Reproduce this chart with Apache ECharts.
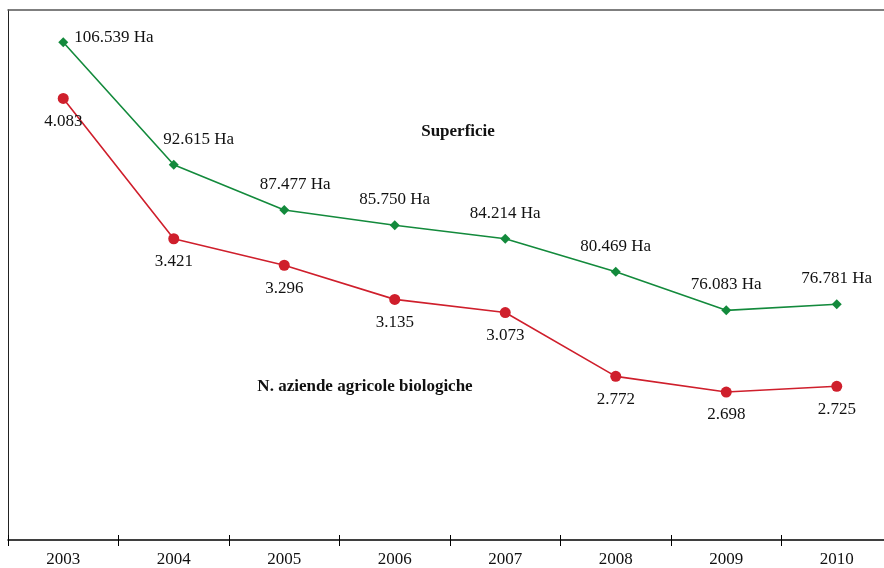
<!DOCTYPE html>
<html>
<head>
<meta charset="utf-8">
<script src="https://cdn.jsdelivr.net/npm/echarts@6/dist/echarts.min.js"></script>
<style>html,body{margin:0;padding:0;background:#fff}#c{width:884px;height:568px}</style>
</head>
<body>
<div id="c"></div>
<script>
var years = ['2003','2004','2005','2006','2007','2008','2009','2010'];
var superficie = [106539, 92615, 87477, 85750, 84214, 80469, 76083, 76781];
var superficieLabels = ['106.539 Ha','92.615 Ha','87.477 Ha','85.750 Ha','84.214 Ha','80.469 Ha','76.083 Ha','76.781 Ha'];
var aziende = [4083, 3421, 3296, 3135, 3073, 2772, 2698, 2725];
var aziendeLabels = ['4.083','3.421','3.296','3.135','3.073','2.772','2.698','2.725'];

var FONT = '"Liberation Serif", "Times New Roman", serif';
var GREEN = '#138a3c';
var RED = '#cf1f2c';

var greenData = superficie.map(function (v, i) {
  var d = { value: v };
  if (i === 0) d.label = { position: 'right', distance: 6, offset: [0, -5] };
  if (i === 1) d.label = { offset: [25, 0] };
  if (i === 2) d.label = { offset: [11, 0] };
  return d;
});

var chart = echarts.init(document.getElementById('c'));
chart.setOption({
  animation: false,
  grid: { left: 8, width: 884, top: 10, bottom: 28, outerBoundsMode: 'none', containLabel: false },
  xAxis: [
    {
      type: 'category', data: years, position: 'bottom', boundaryGap: true,
      axisLine: { show: true, lineStyle: { color: '#000', width: 1.5 } },
      axisTick: { show: true, length: 6, lineStyle: { color: '#000', width: 1 } },
      axisLabel: { show: true, fontFamily: FONT, fontSize: 17, color: '#111', margin: 11 },
      splitLine: { show: false }
    },
    {
      type: 'category', data: years, position: 'bottom', boundaryGap: true,
      axisLine: { show: false },
      axisTick: { show: true, inside: true, length: 5, lineStyle: { color: '#000', width: 1 } },
      axisLabel: { show: false }, splitLine: { show: false }
    },
    {
      type: 'category', data: years, position: 'top', boundaryGap: true,
      axisLine: { show: true, lineStyle: { color: '#555', width: 1.5 } },
      axisTick: { show: false }, axisLabel: { show: false }, splitLine: { show: false }
    }
  ],
  yAxis: [
    {
      type: 'value', min: 50000, max: 110200, position: 'left',
      axisLine: { show: true, lineStyle: { color: '#222', width: 1 } },
      axisTick: { show: false }, axisLabel: { show: false }, splitLine: { show: false }
    },
    {
      type: 'value', min: 2000, max: 4500, position: 'right',
      axisLine: { show: false }, axisTick: { show: false },
      axisLabel: { show: false }, splitLine: { show: false }
    }
  ],
  series: [
    {
      name: 'Superficie', type: 'line', xAxisIndex: 0, yAxisIndex: 0,
      data: greenData,
      symbol: 'diamond', symbolSize: 10,
      lineStyle: { color: GREEN, width: 1.6 },
      itemStyle: { color: GREEN },
      label: {
        show: true, position: 'top', distance: 12,
        fontFamily: FONT, fontSize: 17, color: '#111',
        formatter: function (p) { return superficieLabels[p.dataIndex]; }
      }
    },
    {
      name: 'N. aziende agricole biologiche', type: 'line', xAxisIndex: 0, yAxisIndex: 1,
      data: aziende,
      symbol: 'circle', symbolSize: 11,
      lineStyle: { color: RED, width: 1.6 },
      itemStyle: { color: RED },
      label: {
        show: true, position: 'bottom', distance: 9,
        fontFamily: FONT, fontSize: 17, color: '#111',
        formatter: function (p) { return aziendeLabels[p.dataIndex]; }
      }
    }
  ],
  graphic: [
    {
      type: 'text', x: 458, y: 132,
      style: { text: 'Superficie', font: 'bold 17px ' + FONT, fill: '#111', align: 'center', verticalAlign: 'middle' }
    },
    {
      type: 'text', x: 365, y: 387,
      style: { text: 'N. aziende agricole biologiche', font: 'bold 17px ' + FONT, fill: '#111', align: 'center', verticalAlign: 'middle' }
    }
  ]
});
</script>
</body>
</html>
